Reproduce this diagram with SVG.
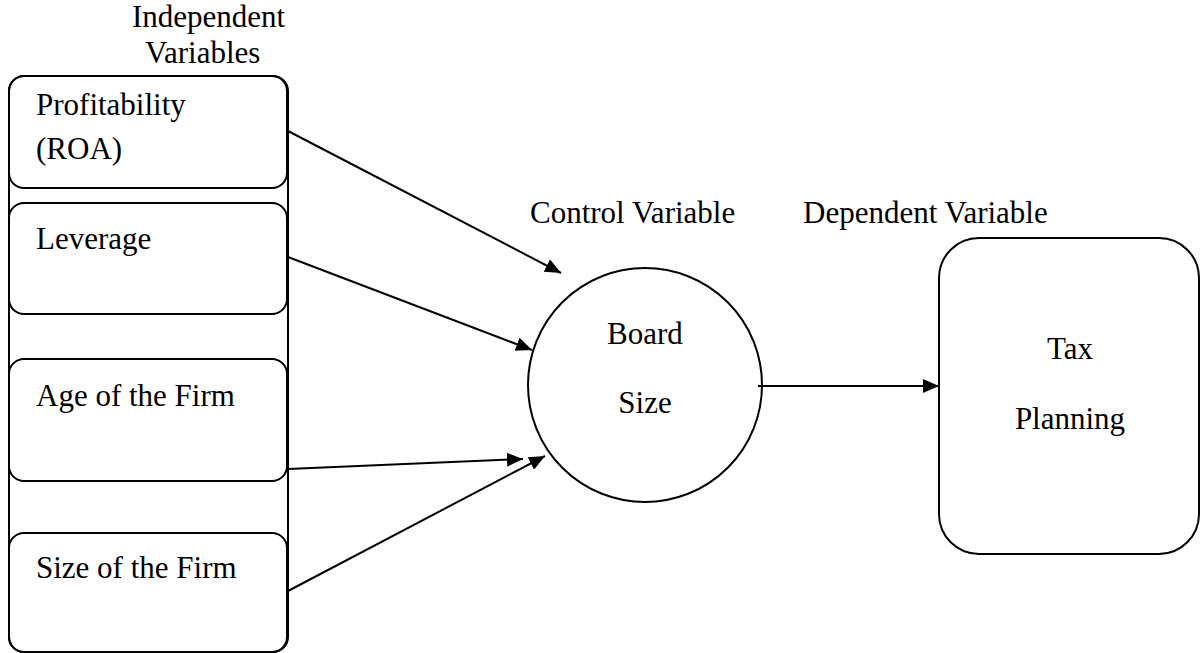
<svg xmlns="http://www.w3.org/2000/svg" width="1204" height="653" viewBox="0 0 1204 653">
  <style>
    .box { fill: none; stroke: #000; stroke-width: 2; }
    .lbl { font-family: "Liberation Serif", "Times New Roman", serif; font-size: 31px; fill: #000; }
    .mid { text-anchor: middle; }
    .edge { stroke: #000; stroke-width: 2; fill: none; marker-end: url(#arrow); }
  </style>
  <defs>
    <marker id="arrow" viewBox="0 0 16 14" refX="16" refY="7" markerWidth="16" markerHeight="14" markerUnits="userSpaceOnUse" orient="auto">
      <path d="M0,0 L16,7 L0,14 Z" fill="#000"/>
    </marker>
  </defs>
  <rect width="1204" height="653" fill="#fff"/>

  <!-- independent variables column -->
  <g id="independent-frame">
    <rect class="box" x="9" y="76" width="279" height="576" rx="15"/>
    <text class="lbl" x="132" y="27">Independent</text>
    <text class="lbl" x="145" y="63">Variables</text>
  </g>
  <g id="profitability">
    <rect class="box" x="9" y="76" width="278" height="112" rx="15"/>
    <text class="lbl" x="36" y="115">Profitability</text>
    <text class="lbl" x="36" y="159">(ROA)</text>
  </g>
  <g id="leverage">
    <rect class="box" x="9" y="203" width="278" height="111" rx="15"/>
    <text class="lbl" x="36" y="249">Leverage</text>
  </g>
  <g id="age">
    <rect class="box" x="9" y="359" width="278" height="122" rx="15"/>
    <text class="lbl" x="36" y="406">Age of the Firm</text>
  </g>
  <g id="size">
    <rect class="box" x="9" y="533" width="278" height="119" rx="15"/>
    <text class="lbl" x="36" y="578">Size of the Firm</text>
  </g>

  <!-- control variable -->
  <g id="board-size">
    <text class="lbl" x="530" y="223">Control Variable</text>
    <circle class="box" cx="645" cy="385" r="117"/>
    <text class="lbl mid" x="645" y="344">Board</text>
    <text class="lbl mid" x="645" y="413">Size</text>
  </g>

  <!-- dependent variable -->
  <g id="tax-planning">
    <text class="lbl" x="803" y="223">Dependent Variable</text>
    <rect class="box" x="939" y="238" width="260" height="316" rx="40"/>
    <text class="lbl mid" x="1070" y="359">Tax</text>
    <text class="lbl mid" x="1070" y="429">Planning</text>
  </g>

  <g id="connectors">
    <line class="edge" x1="288" y1="131" x2="561" y2="273"/>
    <line class="edge" x1="288" y1="257" x2="532" y2="350"/>
    <line class="edge" x1="288" y1="469" x2="523" y2="459"/>
    <line class="edge" x1="288" y1="591" x2="545" y2="456"/>
    <line class="edge" x1="758" y1="386" x2="939" y2="386"/>
  </g>
</svg>
